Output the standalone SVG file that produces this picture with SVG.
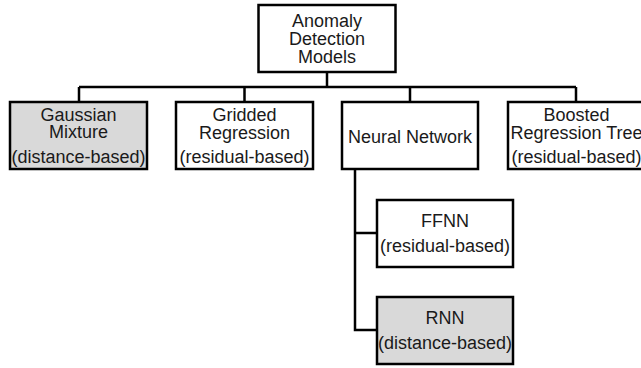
<svg xmlns="http://www.w3.org/2000/svg" width="641" height="368" viewBox="0 0 641 368">
<style>
.box{fill:#fff;stroke:#000;stroke-width:2.5}
.gray{fill:#d9d9d9}
.c{fill:none;stroke:#000;stroke-width:2.5}
text{font-family:"Liberation Sans",Arial,sans-serif;font-size:18px;fill:#1a1a1a;text-anchor:middle}
</style>
<rect width="641" height="368" fill="#fff"/>
<g id="connectors">
<path class="c" d="M327 72V87M79 87H576M79 87V102M244.5 87V102M410 87V102M576 87V102"/>
<path class="c" d="M355 169V330H377M355 233H377"/>
</g>
<g id="root">
<rect class="box" x="258.5" y="5" width="137" height="67"/>
<text x="327" y="27">Anomaly</text>
<text x="327" y="45">Detection</text>
<text x="327" y="63">Models</text>
</g>
<g id="gaussian">
<rect class="box gray" x="10" y="102" width="137" height="67"/>
<text x="78.5" y="121">Gaussian</text>
<text x="78.5" y="138">Mixture</text>
<text x="78.5" y="163">(distance-based)</text>
</g>
<g id="gridded">
<rect class="box" x="176" y="102" width="137" height="67"/>
<text x="244.5" y="121">Gridded</text>
<text x="244.5" y="139">Regression</text>
<text x="244.5" y="163">(residual-based)</text>
</g>
<g id="neural">
<rect class="box" x="342" y="102" width="136" height="67"/>
<text x="410" y="143">Neural Network</text>
</g>
<g id="boosted">
<rect class="box" x="508" y="102" width="137" height="67"/>
<text x="576.5" y="121">Boosted</text>
<text x="576.5" y="139">Regression Tree</text>
<text x="576.5" y="163">(residual-based)</text>
</g>
<g id="ffnn">
<rect class="box" x="377" y="200" width="136" height="67"/>
<text x="445" y="227">FFNN</text>
<text x="445" y="252">(residual-based)</text>
</g>
<g id="rnn">
<rect class="box gray" x="377" y="297" width="136" height="67"/>
<text x="445" y="324">RNN</text>
<text x="445" y="349">(distance-based)</text>
</g>
</svg>
